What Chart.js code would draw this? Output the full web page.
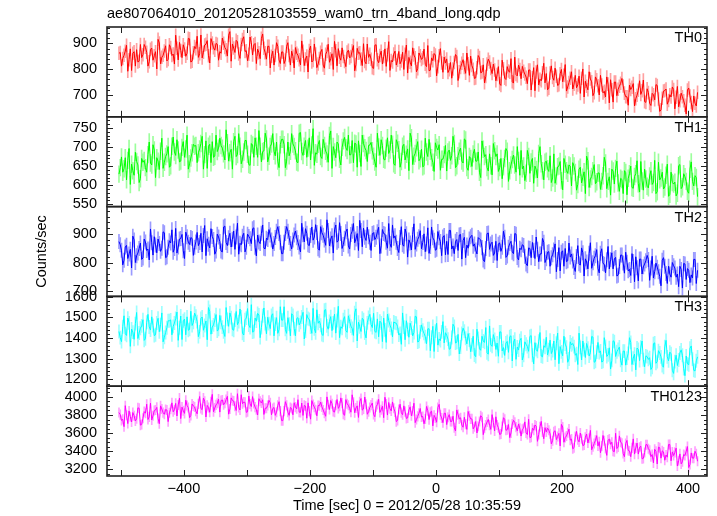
<!DOCTYPE html>
<html>
<head>
<meta charset="utf-8">
<script src="https://cdn.jsdelivr.net/npm/chart.js@4/dist/chart.umd.min.js"></script>
<style>
  html, body { margin: 0; padding: 0; background: #fff; }
</style>
</head>
<body>
<canvas id="lc" width="717" height="516"></canvas>
<script>
const plotTitle = 'ae807064010_20120528103559_wam0_trn_4band_long.qdp';
const xTitle = 'Time [sec] 0 = 2012/05/28 10:35:59';
const yTitle = 'Counts/sec';
const bandNames = ['TH0', 'TH1', 'TH2', 'TH3', 'TH0123'];
const timeStart = -503; // first bin (s)
const timeStep = 2;     // bin width (s)
const xTicks = [-400, -200, 0, 200, 400];

// count rates, one value per 2 s bin
const th0 = [
  862,865,812,842,854,870,893,792,837,879,795,862,868,812,876,828,831,896,845,856,
  896,885,866,812,829,877,882,835,852,868,801,916,902,821,846,854,871,891,832,838,
  895,884,853,859,820,932,881,836,904,873,845,895,878,850,862,920,918,828,831,864,
  888,880,928,846,860,933,844,866,894,897,911,852,824,919,902,883,874,900,897,835,
  868,862,921,901,884,876,851,932,946,831,898,882,865,912,907,859,842,896,915,926,
  869,872,833,858,925,903,855,895,900,822,878,864,841,920,937,881,864,839,889,889,
  805,850,870,816,853,903,889,836,822,867,867,822,836,889,903,853,816,870,850,805,
  884,862,854,837,817,910,870,814,840,851,789,873,890,828,834,898,859,806,820,842,
  866,877,816,804,858,869,897,827,841,860,799,908,872,813,880,846,835,883,849,830,
  810,867,874,844,849,872,892,794,818,881,862,864,840,814,899,830,821,898,846,858,
  839,806,803,893,895,837,825,853,870,820,848,879,811,856,907,795,834,828,859,870,
  816,835,869,821,832,866,799,858,894,785,846,827,813,883,855,844,790,802,863,852,
  838,844,878,819,810,892,794,796,844,833,861,855,774,810,852,880,824,788,847,824,
  840,787,798,826,765,801,826,857,849,756,790,807,823,837,807,784,863,821,776,851,
  814,800,764,766,806,853,845,786,789,817,747,772,820,839,828,803,783,820,797,755,
  779,810,743,737,835,802,765,760,810,793,788,841,751,746,847,779,774,816,799,763,
  811,792,781,769,744,797,797,719,767,806,716,789,817,739,761,755,786,823,747,783,
  720,726,785,813,768,757,804,773,737,740,782,799,751,776,818,715,731,748,765,790,
  723,742,776,728,739,773,706,765,801,692,753,734,720,790,762,751,697,709,770,759,
  736,700,776,739,708,714,692,770,742,669,759,720,672,750,750,697,722,734,745,764,
  735,707,693,693,660,738,721,730,744,657,685,699,718,755,702,716,758,674,671,724,
  709,667,659,706,701,681,740,737,684,636,642,687,715,717,723,664,678,701,692,731,
  721,646,691,733,654,677,707,693,677,660,626,719,727,696,671,635,696,668,657,710
];
const th1 = [
  629,646,674,634,643,672,614,665,696,602,655,638,626,686,662,653,607,617,670,660,
  665,646,634,680,713,658,653,706,692,620,672,663,641,689,723,644,660,675,682,701,
  647,651,702,726,687,678,719,692,661,663,699,714,673,695,731,642,656,671,685,707,
  702,704,659,685,695,709,728,642,680,716,644,702,707,659,714,673,676,731,688,697,
  723,704,697,682,666,745,711,663,685,694,642,714,728,675,680,735,702,656,668,687,
  717,717,681,654,652,709,705,673,724,702,673,743,702,661,688,690,736,721,661,676,
  701,708,735,689,677,713,663,646,706,720,720,706,646,663,713,677,689,735,708,701,
  690,661,659,736,738,688,678,702,717,673,697,724,666,705,748,652,685,681,707,717,
  675,670,720,704,689,682,660,730,742,644,701,687,672,713,708,668,653,699,716,725,
  698,691,731,679,680,717,659,710,708,647,716,683,649,731,709,698,691,662,704,705,
  712,690,676,661,647,736,700,678,719,704,668,666,697,724,683,692,731,707,656,652,
  719,710,693,647,662,702,707,666,681,695,638,736,724,654,676,683,698,714,664,669,
  694,648,651,723,687,675,720,689,672,660,636,711,699,692,706,639,668,668,680,704,
  637,687,692,665,677,728,709,646,651,677,689,697,663,658,721,718,646,639,675,670,
  649,682,694,663,663,687,634,620,716,694,675,680,646,637,682,651,627,709,690,675,
  682,636,646,670,617,648,670,696,689,610,638,653,667,679,653,634,701,665,626,691,
  643,650,612,631,691,675,631,661,670,605,650,641,619,683,701,656,638,614,660,663,
  643,636,677,607,619,682,605,624,648,650,662,612,588,670,655,638,631,653,650,598,
  659,650,633,587,602,642,647,606,621,635,578,676,664,594,616,623,638,654,604,609,
  632,632,589,610,625,673,658,591,610,622,574,642,637,603,644,663,606,584,618,615,
  578,638,633,575,618,630,650,594,592,623,630,664,604,582,662,611,587,642,616,597,
  593,624,638,602,607,665,578,583,660,614,619,634,590,595,626,655,571,576,634,607,
  603,608,572,579,651,654,591,596,630,622,610,584,579,642,661,610,598,625,620,570
];
const th2 = [
  873,862,843,792,808,854,860,814,830,846,781,892,879,800,824,833,849,868,811,816,
  882,872,842,847,809,917,869,826,890,861,834,882,866,839,850,907,904,817,820,853,
  876,868,914,836,849,919,833,854,882,884,898,841,814,906,890,871,863,887,884,825,
  853,872,905,859,870,902,837,894,929,824,883,864,851,918,891,880,829,840,899,889,
  873,840,837,924,927,870,859,886,902,854,881,910,846,889,937,829,867,862,892,902,
  837,853,899,891,883,866,918,921,853,823,896,872,866,902,931,850,848,885,880,915,
  896,879,847,866,887,909,925,901,871,831,831,871,901,925,909,887,866,847,879,896,
  910,886,870,854,837,937,897,872,918,902,862,859,894,924,878,889,932,905,848,843,
  925,904,895,879,860,949,912,858,882,893,833,914,931,871,876,939,901,849,863,885,
  907,917,858,847,898,909,936,869,882,901,842,947,912,855,920,888,877,923,890,871,
  842,901,904,880,888,907,923,831,858,915,901,899,871,850,936,866,853,931,885,893,
  871,849,835,887,925,862,857,917,900,819,879,868,844,898,935,846,865,881,890,911,
  848,870,900,838,865,921,832,856,924,886,878,843,846,908,886,873,824,889,894,827,
  874,828,912,912,847,858,831,874,880,842,896,898,812,877,888,817,861,850,882,890,
  895,857,865,844,830,887,882,879,852,809,803,849,901,903,846,865,871,825,833,874,
  807,864,869,839,853,909,888,818,823,853,866,874,836,831,901,899,818,809,850,845,
  862,859,822,795,789,851,849,817,870,843,814,889,846,803,830,830,884,871,800,813,
  836,838,787,817,827,844,865,768,811,852,771,836,841,787,849,803,806,868,819,830,
  805,783,769,821,859,796,791,851,834,753,813,802,778,832,869,780,799,815,824,845,
  780,764,832,848,797,794,764,810,856,778,810,834,778,813,818,753,756,786,826,826,
  798,763,836,801,771,776,755,831,804,733,820,782,736,812,812,760,785,795,806,825,
  811,738,781,822,746,768,798,784,768,752,719,808,817,787,762,727,787,760,749,800,
  789,781,749,760,716,787,776,711,797,795,741,779,773,730,757,746,811,811,727,773
];
const th3 = [
  1432,1402,1383,1455,1508,1421,1413,1497,1474,1360,1444,1429,1394,1470,1524,1398,1425,1448,1459,1489,
  1389,1397,1477,1515,1454,1439,1503,1461,1412,1416,1473,1496,1431,1465,1522,1382,1404,1427,1450,1484,
  1484,1488,1416,1457,1473,1495,1526,1389,1450,1507,1393,1484,1492,1416,1503,1438,1442,1530,1461,1476,
  1521,1506,1480,1407,1430,1495,1502,1438,1461,1483,1392,1548,1529,1419,1453,1464,1487,1514,1434,1442,
  1510,1476,1453,1430,1408,1548,1491,1457,1522,1499,1442,1438,1487,1529,1465,1480,1541,1503,1423,1415,
  1489,1497,1543,1463,1451,1562,1429,1432,1497,1482,1520,1512,1402,1451,1508,1546,1470,1421,1501,1470,
  1446,1510,1518,1411,1468,1499,1423,1442,1552,1487,1487,1552,1442,1423,1499,1468,1411,1518,1510,1446,
  1411,1495,1499,1464,1476,1502,1525,1396,1434,1514,1495,1491,1453,1423,1544,1445,1426,1537,1472,1483,
  1462,1417,1413,1535,1538,1459,1443,1481,1504,1436,1474,1516,1424,1485,1554,1402,1455,1447,1489,1504,
  1436,1428,1508,1481,1458,1447,1413,1523,1542,1386,1477,1455,1432,1496,1489,1424,1401,1474,1500,1515,
  1466,1451,1520,1432,1428,1493,1406,1482,1474,1383,1497,1440,1379,1516,1485,1463,1447,1406,1478,1474,
  1472,1457,1415,1423,1370,1522,1453,1392,1484,1442,1404,1472,1449,1411,1427,1506,1503,1381,1385,1430,
  1464,1438,1423,1407,1373,1445,1445,1339,1404,1457,1335,1434,1472,1366,1396,1388,1430,1480,1377,1426,
  1414,1395,1346,1349,1403,1467,1456,1376,1380,1418,1323,1357,1422,1448,1433,1399,1372,1422,1391,1334,
  1367,1409,1318,1310,1443,1398,1348,1341,1409,1386,1379,1451,1329,1322,1459,1367,1360,1417,1394,1345,
  1376,1312,1430,1430,1338,1354,1316,1376,1384,1331,1407,1411,1289,1380,1395,1297,1357,1342,1388,1399,
  1294,1317,1382,1370,1359,1336,1408,1412,1317,1275,1378,1344,1336,1385,1427,1313,1309,1363,1355,1404,
  1318,1344,1390,1325,1340,1386,1295,1375,1424,1276,1359,1333,1314,1409,1371,1356,1283,1299,1382,1367,
  1374,1359,1317,1325,1272,1424,1355,1294,1386,1344,1306,1374,1351,1313,1329,1408,1405,1283,1287,1332,
  1379,1330,1338,1284,1288,1402,1360,1311,1319,1353,1250,1292,1387,1383,1311,1334,1345,1357,1292,1269,
  1337,1337,1269,1303,1326,1402,1379,1272,1303,1322,1246,1352,1345,1291,1356,1386,1295,1261,1314,1310,
  1297,1305,1248,1259,1373,1377,1278,1286,1339,1328,1309,1267,1259,1358,1389,1309,1290,1332,1324,1244,
  1229,1286,1317,1267,1294,1328,1343,1317,1252,1218,1313,1275,1271,1351,1362,1298,1244,1241,1290,1309
];
const th0123 = [
  3827,3804,3740,3752,3671,3903,3798,3705,3845,3781,3723,3827,3792,3734,3758,3879,3874,3688,3694,3763,
  3837,3820,3919,3750,3779,3930,3745,3791,3849,3855,3884,3762,3704,3901,3866,3826,3808,3861,3855,3727,
  3824,3864,3934,3835,3858,3928,3789,3911,3986,3760,3887,3847,3818,3963,3905,3882,3771,3795,3922,3899,
  3888,3842,3813,3923,4004,3871,3859,3987,3952,3778,3906,3883,3830,3946,4028,3836,3877,3912,3929,3975,
  3832,3960,3966,3913,3931,3971,4006,3809,3867,3989,3960,3954,3896,3850,4035,3884,3855,4024,3925,3942,
  3939,3829,3835,4009,3922,3893,4003,3927,3887,3858,3800,3980,3951,3933,3968,3806,3875,3875,3904,3962,
  3935,3802,3872,3883,3796,3831,3906,3947,3843,3738,3738,3843,3947,3906,3831,3796,3883,3872,3802,3935,
  3887,3868,3969,3831,3829,3932,3795,3907,3899,3764,3934,3843,3754,3959,3916,3886,3858,3791,3905,3903,
  3942,3890,3855,3820,3786,4000,3913,3861,3960,3925,3838,3832,3907,3971,3873,3896,3989,3931,3809,3797,
  3970,3924,3907,3872,3831,4023,3941,3825,3878,3901,3773,3947,3982,3854,3866,3999,3918,3808,3837,3883,
  3909,3932,3805,3781,3892,3915,3973,3828,3857,3897,3770,3996,3921,3799,3938,3868,3845,3944,3874,3834,
  3727,3739,3861,3919,3826,3803,3901,3837,3762,3768,3855,3890,3791,3843,3930,3716,3750,3785,3820,3872,
  3778,3784,3703,3755,3894,3848,3749,3831,3842,3680,3796,3767,3720,3883,3918,3802,3767,3715,3819,3819,
  3694,3775,3804,3728,3728,3786,3659,3624,3856,3804,3757,3769,3688,3665,3775,3699,3641,3839,3792,3757,
  3757,3647,3670,3728,3601,3676,3728,3792,3775,3583,3653,3688,3722,3751,3688,3641,3804,3717,3624,3780,
  3689,3660,3585,3590,3672,3770,3753,3631,3637,3695,3550,3602,3701,3741,3718,3666,3625,3701,3654,3567,
  3642,3654,3724,3602,3584,3753,3550,3555,3654,3631,3689,3677,3509,3584,3671,3729,3613,3538,3660,3613,
  3655,3632,3592,3481,3516,3615,3626,3528,3563,3597,3458,3696,3667,3499,3551,3568,3603,3644,3522,3534,
  3427,3439,3561,3619,3526,3503,3601,3537,3462,3468,3555,3590,3491,3543,3630,3416,3450,3485,3520,3572,
  3458,3505,3383,3458,3574,3516,3429,3354,3522,3534,3476,3499,3400,3395,3598,3429,3447,3569,3499,3487,
  3374,3339,3484,3519,3408,3403,3339,3437,3536,3368,3437,3490,3368,3443,3455,3316,3321,3385,3472,3472,
  3427,3410,3340,3363,3271,3421,3398,3259,3445,3439,3323,3404,3392,3300,3358,3334,3474,3474,3294,3392,
  3352,3387,3434,3236,3294,3370,3260,3283,3364,3352,3399,3451,3219,3254,3381,3323,3323,3399,3370,3289
];
const bandErrors = [25, 22, 25, 32, 52]; // typical 1-sigma error bar per band

const yMins = [615, 544, 682, 1167, 3126];
const yMaxs = [964, 779, 995, 1602, 4118];
const yTickValues = [
  [700, 800, 900],
  [550, 600, 650, 700, 750],
  [700, 800, 900],
  [1200, 1300, 1400, 1500, 1600],
  [3200, 3400, 3600, 3800, 4000]
];
const majorSteps = [100, 50, 100, 100, 200];
const minorSteps = [20, 10, 20, 20, 50];

const lineColors = ['#ff0000', '#00ff00', '#0000ff', '#00ffff', '#ff00ff'];
const errColors = ['#ffa0a0', '#9cff9c', '#9a9aff', '#9cffff', '#ffa0ff'];

const bands = [th0, th1, th2, th3, th0123];
const times = th0.map((_, i) => timeStart + i * timeStep);

Chart.defaults.font.family = "'Liberation Sans', Arial, sans-serif";
Chart.defaults.font.size = 14.5;
Chart.defaults.color = '#000';

const minusFmt = v => (v < 0 ? '\u2212' + Math.abs(v) : String(v));

const datasets = [];
const scales = {
  x: {
    type: 'linear',
    min: -522,
    max: 430,
    offset: false,
    grid: { display: false, drawTicks: false },
    border: { display: false },
    afterBuildTicks: s => { s.ticks = xTicks.map(v => ({ value: v })); },
    ticks: { padding: 4, maxRotation: 0, autoSkip: false, callback: minusFmt },
    title: { display: true, text: xTitle, padding: { top: 0, bottom: 1 } },
    afterFit: s => { s.height = 40; }
  }
};

bands.forEach((vals, k) => {
  const id = 'y' + k;
  datasets.push({
    type: 'bar',
    label: bandNames[k] + ' err',
    yAxisID: id,
    data: vals.map((v, i) => ({ x: times[i], y: [v - bandErrors[k], v + bandErrors[k]] })),
    backgroundColor: errColors[k],
    barThickness: 1,
    grouped: false,
    order: 2
  });
  datasets.push({
    type: 'line',
    label: bandNames[k],
    yAxisID: id,
    data: vals.map((v, i) => ({ x: times[i], y: v })),
    borderColor: lineColors[k],
    borderWidth: 1,
    pointRadius: 0,
    tension: 0,
    order: 1
  });
});

// stacked left axes are laid out bottom-up, so add the last band first
for (let k = bands.length - 1; k >= 0; k--) {
  scales['y' + k] = {
    type: 'linear',
    position: 'left',
    stack: 'lc',
    stackWeight: 1,
    min: yMins[k],
    max: yMaxs[k],
    grid: { display: false, drawTicks: false },
    border: { display: false },
    afterBuildTicks: s => { s.ticks = yTickValues[k].map(v => ({ value: v })); },
    ticks: { autoSkip: false, padding: 10, callback: v => String(v) },
    title: { display: k === 2, text: yTitle, padding: { top: 33, bottom: 0 } },
    afterFit: s => { s.width = 107; }
  };
}

// qdp style frames, inward ticks and band names
const qdpFrame = {
  id: 'qdpFrame',
  afterDatasetsDraw(chart) {
    const { ctx, chartArea, scales } = chart;
    const xs = scales.x;
    const l = chartArea.left, r = chartArea.right;
    ctx.save();
    bandNames.forEach((name, k) => {
      const ys = scales['y' + k];
      const top = ys.top, bot = ys.bottom;
      ctx.strokeStyle = '#222';
      ctx.lineWidth = 1;
      ctx.beginPath();
      for (let t = -500; t <= 400; t += 100) {
        const px = Math.round(xs.getPixelForValue(t)) + 0.5;
        ctx.moveTo(px, top); ctx.lineTo(px, top + 6);
        ctx.moveTo(px, bot); ctx.lineTo(px, bot - 6);
      }
      const step = minorSteps[k];
      for (let v = Math.ceil(ys.min / step) * step; v <= ys.max; v += step) {
        const py = Math.round(ys.getPixelForValue(v)) + 0.5;
        const len = v % majorSteps[k] === 0 ? 6 : 3;
        ctx.moveTo(l, py); ctx.lineTo(l + len, py);
        ctx.moveTo(r, py); ctx.lineTo(r - len, py);
      }
      ctx.stroke();
      ctx.lineWidth = 1.6;
      ctx.strokeRect(l, top, r - l, bot - top);
      ctx.fillStyle = '#000';
      ctx.font = "14.5px 'Liberation Sans', Arial, sans-serif";
      ctx.textAlign = 'right';
      ctx.textBaseline = 'middle';
      ctx.fillText(name, r - 5, top + 11);
    });
    ctx.restore();
  }
};

new Chart(document.getElementById('lc'), {
  type: 'line',
  data: { datasets },
  options: {
    responsive: false,
    animation: false,
    devicePixelRatio: 1,
    layout: { padding: { left: 0, right: 10, top: 0, bottom: 0 } },
    plugins: {
      legend: { display: false },
      tooltip: { enabled: false },
      title: {
        display: true,
        text: plotTitle,
        align: 'start',
        fullSize: false,
        font: { size: 14.5, weight: 'normal' },
        padding: { top: 5, bottom: 4.6 }
      }
    },
    scales
  },
  plugins: [qdpFrame]
});
</script>
</body>
</html>
